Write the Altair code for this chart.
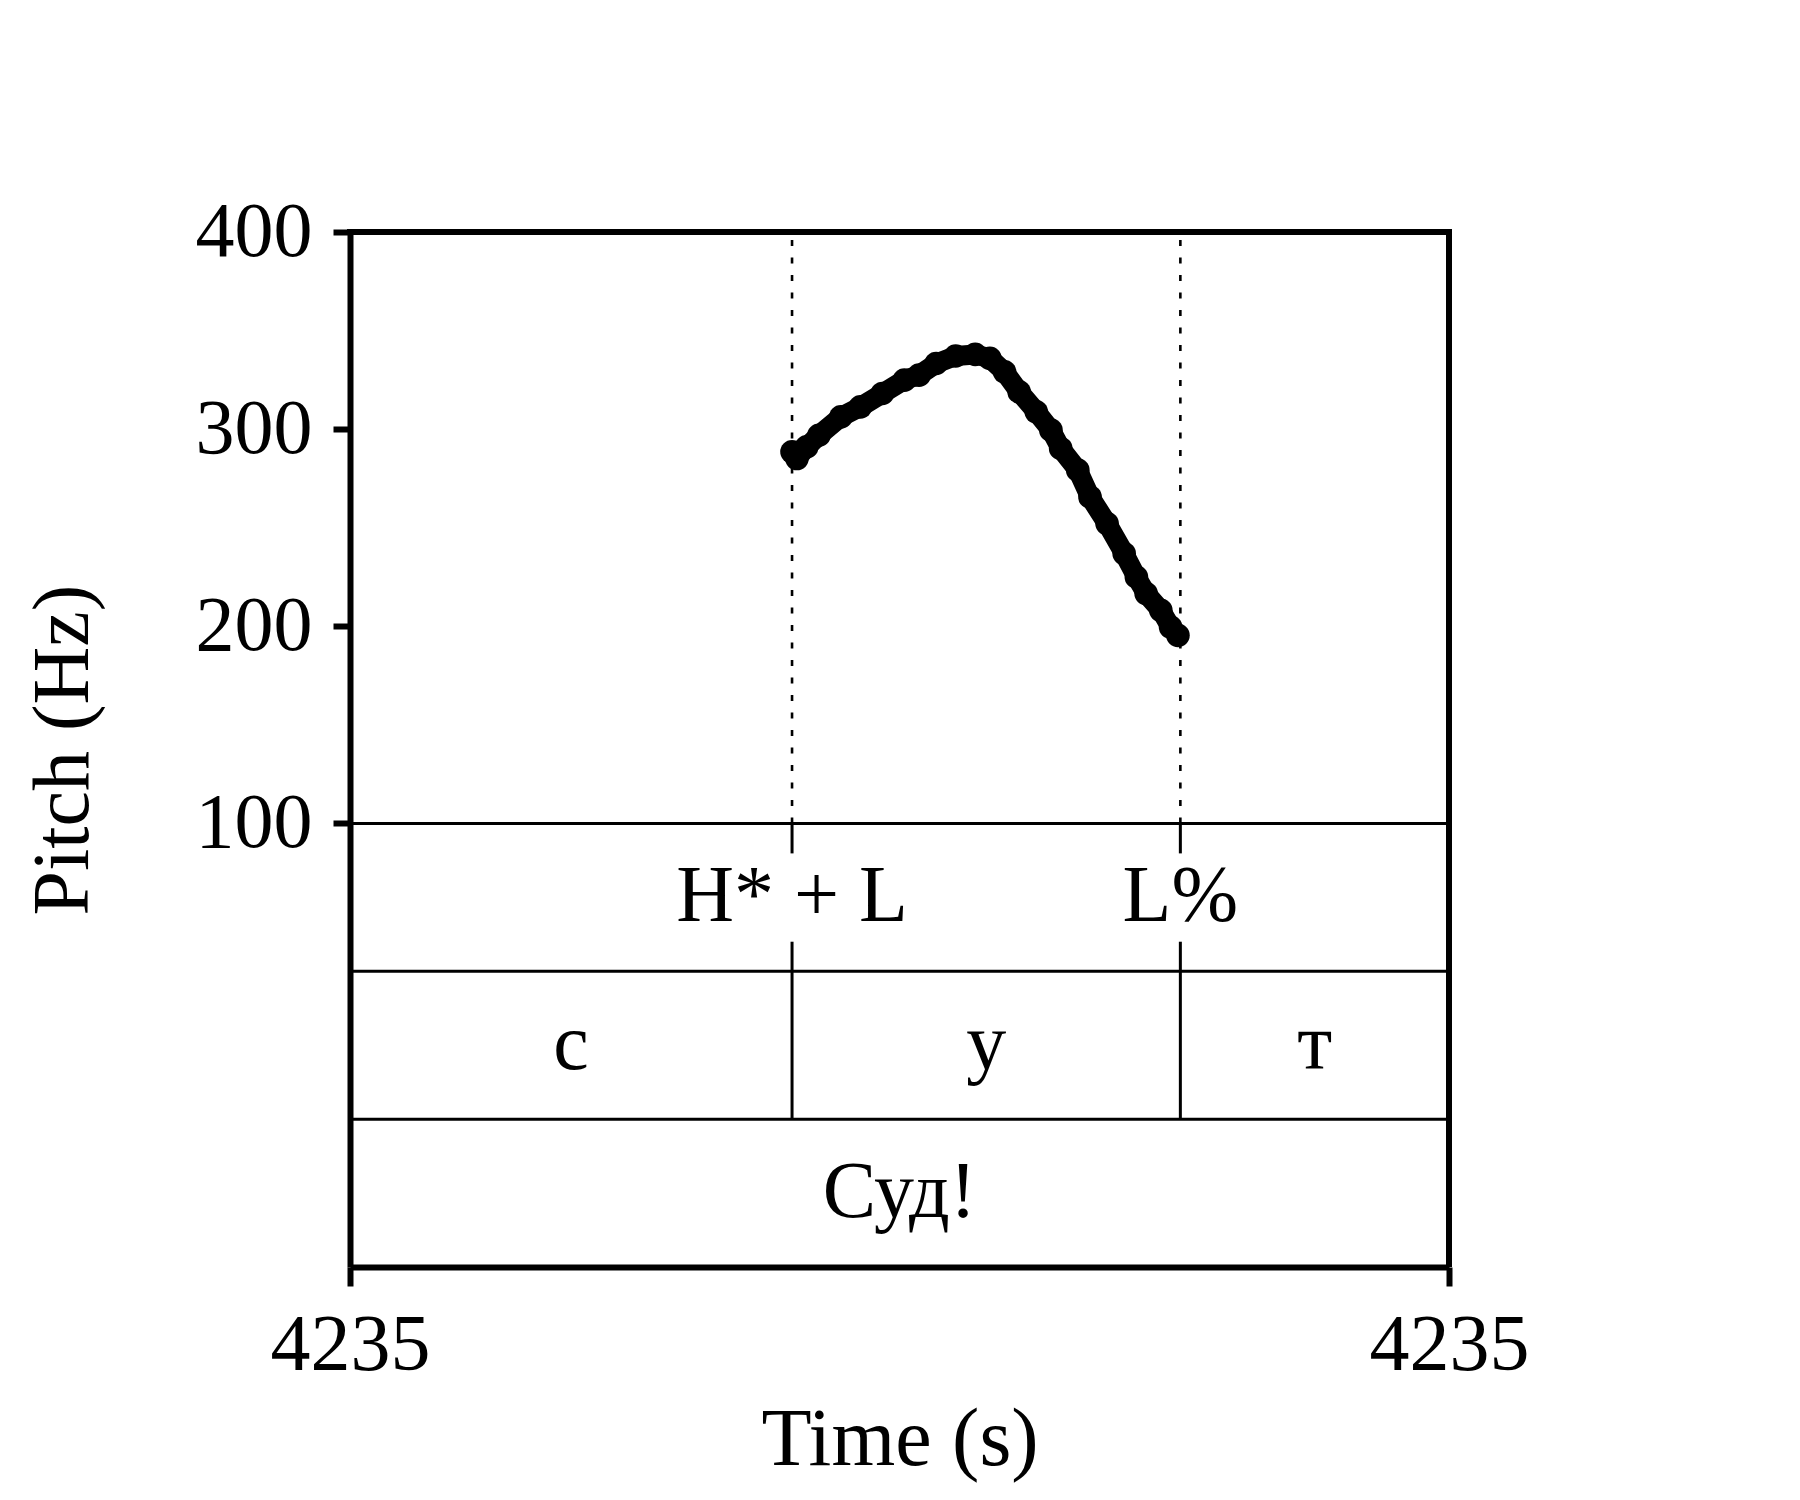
import altair as alt
import pandas as pd

# ---- data ----
t_start = 4235.02
t_end = 4235.47
boundaries = [4235.201, 4235.360]

pitch_time = [4235.201, 4235.203, 4235.207, 4235.212, 4235.221, 4235.229, 4235.238,
              4235.247, 4235.253, 4235.260, 4235.268, 4235.276, 4235.282, 4235.288,
              4235.294, 4235.301, 4235.307, 4235.311, 4235.318, 4235.323, 4235.330,
              4235.337, 4235.342, 4235.346, 4235.352, 4235.356, 4235.359]
pitch_hz = [288.5, 285.1, 291.0, 296.9, 306.2, 311.3, 318.1,
            324.9, 327.4, 333.3, 337.1, 337.9, 335.9, 329.1,
            318.9, 308.8, 299.5, 290.2, 279.2, 265.6, 252.1,
            236.9, 225.0, 216.6, 208.1, 199.6, 195.4]

tone_labels = ["H* + L", "L%"]
tone_times = [4235.201, 4235.360]

seg_labels = ["с", "у", "т"]
seg_start = [4235.02, 4235.201, 4235.360]
seg_end = [4235.201, 4235.360, 4235.47]

word_labels = ["Суд!"]
word_start = [4235.02]
word_end = [4235.47]

tier_lines = [100, 25, -50]        # horizontal tier borders (Hz-axis units)
tier_centers = {"tone": 62.5, "seg": -12.5, "word": -87.5}

y_ticks = [100, 200, 300, 400]

# ---- layout ----
W, H = 1099, 1035
FONT = "Liberation Serif"

xs = alt.Scale(domain=[t_start, t_end], nice=False, zero=False)
ys = alt.Scale(domain=[-125, 400], nice=False, zero=False)

pitch_df = pd.DataFrame({"t": pitch_time, "hz": pitch_hz})
bound_df = pd.DataFrame({"t": boundaries})
tier_df = pd.DataFrame({"y": tier_lines})
tone_df = pd.DataFrame({"t": tone_times, "label": tone_labels})
seg_df = pd.DataFrame({"s": seg_start, "e": seg_end, "label": seg_labels})
word_df = pd.DataFrame({"s": word_start, "e": word_end, "label": word_labels})

x_axis = alt.Axis(values=[t_start, t_end], format=".0f", labelFont=FONT, labelFontSize=80,
                  labelColor="black", labelFlush=False, labelOverlap=False, tickSize=19,
                  tickWidth=6, tickColor="black", domainWidth=6, domainColor="black",
                  labelPadding=20, grid=False, title="Time (s)", titleFont=FONT,
                  titleFontSize=82, titleFontWeight="normal", titleColor="black",
                  titleX=W / 2, titleY=197, titleBaseline="alphabetic", titleAlign="center")
y_axis = alt.Axis(values=y_ticks, labelFont=FONT, labelFontSize=78, labelColor="black",
                  labelFlush=False, tickSize=17, tickWidth=6, tickColor="black",
                  domainWidth=6, domainColor="black", labelPadding=21, grid=False,
                  title="Pitch (Hz)", titleFont=FONT, titleFontSize=80,
                  titleFontWeight="normal", titleColor="black", titleAngle=270,
                  titleX=-287, titleY=H / 2, titleAlign="center", titleBaseline="middle")

# frame: top and right borders of the plot area
frame_top = alt.Chart(pd.DataFrame({"y": [400]})).mark_rule(
    strokeWidth=6, color="black").encode(x=alt.value(-3), x2=alt.value(W + 3),
                                        y=alt.Y("y:Q", scale=ys))
frame_right = alt.Chart(pd.DataFrame({"t": [t_end]})).mark_rule(
    strokeWidth=6, color="black").encode(x=alt.X("t:Q", scale=xs),
                                        y=alt.value(-3), y2=alt.value(H))

# base layer carries the axes
base = alt.Chart(pitch_df).mark_line(strokeWidth=20, color="black", strokeCap="round",
                                     strokeJoin="round").encode(
    x=alt.X("t:Q", scale=xs, axis=x_axis),
    y=alt.Y("hz:Q", scale=ys, axis=y_axis),
)
dots = alt.Chart(pitch_df).mark_circle(size=560, color="black", opacity=1).encode(
    x=alt.X("t:Q", scale=xs), y=alt.Y("hz:Q", scale=ys))

tiers = alt.Chart(tier_df).mark_rule(strokeWidth=3, color="black").encode(
    x=alt.value(0), x2=alt.value(W), y=alt.Y("y:Q", scale=ys))

dotted = alt.Chart(bound_df).transform_calculate(y0="100", y1="400").mark_rule(
    strokeWidth=2.6, color="black", strokeDash=[6, 11.5]).encode(
    x=alt.X("t:Q", scale=xs), y=alt.Y("y0:Q", scale=ys), y2="y1:Q")

seg_bounds = alt.Chart(bound_df).transform_calculate(y0="-50", y1="25").mark_rule(
    strokeWidth=3, color="black").encode(
    x=alt.X("t:Q", scale=xs), y=alt.Y("y0:Q", scale=ys), y2="y1:Q")

tone_top = alt.Chart(bound_df).transform_calculate(y0="84.8", y1="100").mark_rule(
    strokeWidth=3, color="black").encode(
    x=alt.X("t:Q", scale=xs), y=alt.Y("y0:Q", scale=ys), y2="y1:Q")
tone_bot = alt.Chart(bound_df).transform_calculate(y0="25", y1="40").mark_rule(
    strokeWidth=3, color="black").encode(
    x=alt.X("t:Q", scale=xs), y=alt.Y("y0:Q", scale=ys), y2="y1:Q")

txt = dict(font=FONT, fontSize=80, color="black", align="center", baseline="middle")

tone_text = alt.Chart(tone_df).transform_calculate(yc=str(tier_centers["tone"])).mark_text(
    **txt).encode(x=alt.X("t:Q", scale=xs), y=alt.Y("yc:Q", scale=ys), text="label:N")

seg_text = alt.Chart(seg_df).transform_calculate(
    m="(datum.s + datum.e) / 2", yc=str(tier_centers["seg"])).mark_text(**txt).encode(
    x=alt.X("m:Q", scale=xs), y=alt.Y("yc:Q", scale=ys), text="label:N")

word_text = alt.Chart(word_df).transform_calculate(
    m="(datum.s + datum.e) / 2", yc=str(tier_centers["word"])).mark_text(**txt).encode(
    x=alt.X("m:Q", scale=xs), y=alt.Y("yc:Q", scale=ys), text="label:N")

chart = alt.layer(
    tiers, dotted, seg_bounds, tone_top, tone_bot, frame_top, frame_right,
    base, dots, tone_text, seg_text, word_text
).properties(
    width=W, height=H,
    autosize=alt.AutoSizeParams(type="none"),
    padding={"left": 342, "top": 224, "right": 140, "bottom": 225},
).configure(background="white").configure_view(stroke=None, strokeWidth=0)

chart.save("out.html", embed_options={"renderer": "svg", "actions": False})
